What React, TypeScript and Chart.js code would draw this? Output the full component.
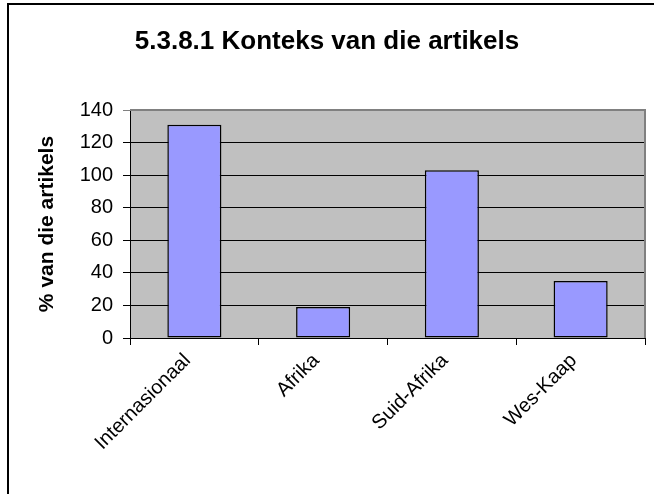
import React, { useEffect, useRef } from "react";
import { Chart, registerables } from "chart.js";

Chart.register(...registerables);

const categories = ["Internasionaal", "Afrika", "Suid-Afrika", "Wes-Kaap"];
const values = [131, 19, 103, 35];
const yTicks = [0, 20, 40, 60, 80, 100, 120, 140];
const titleText = "5.3.8.1 Konteks van die artikels";
const yAxisTitle = "% van die artikels";

const FONT = "'Liberation Sans', Arial, sans-serif";

const framePlugin = {
  id: "framePlugin",
  beforeDraw(chart: any) {
    const { ctx, chartArea } = chart;
    ctx.save();
    ctx.fillStyle = "#ffffff";
    ctx.fillRect(0, 0, chart.width, chart.height);
    ctx.fillStyle = "#C0C0C0";
    ctx.fillRect(chartArea.left, chartArea.top, chartArea.right - chartArea.left, chartArea.bottom - chartArea.top);
    ctx.restore();
  },
  afterDraw(chart: any) {
    const { ctx, chartArea } = chart;
    ctx.save();
    // plot area border (top & right, gray)
    ctx.strokeStyle = "#808080";
    ctx.lineWidth = 2;
    ctx.beginPath();
    ctx.moveTo(chartArea.left, chartArea.top);
    ctx.lineTo(chartArea.right, chartArea.top);
    ctx.lineTo(chartArea.right, chartArea.bottom);
    ctx.stroke();
    // outer frame
    ctx.strokeStyle = "#000000";
    ctx.lineWidth = 2;
    ctx.strokeRect(8, 4, 700, 600);
    // title
    ctx.fillStyle = "#000000";
    ctx.font = `bold 26px ${FONT}`;
    ctx.textAlign = "center";
    ctx.textBaseline = "alphabetic";
    ctx.fillText(titleText, 327, 49);
    ctx.restore();
  },
};

export default function App() {
  const ref = useRef<HTMLCanvasElement | null>(null);
  useEffect(() => {
    if (!ref.current) return;
    const chart = new Chart(ref.current, {
      type: "bar",
      data: {
        labels: categories,
        datasets: [
          {
            data: values,
            backgroundColor: "#9999FF",
            borderColor: "#000000",
            borderWidth: 1.5,
            borderSkipped: false,
            categoryPercentage: 1,
            barPercentage: 0.42,
          },
        ],
      },
      options: {
        animation: false,
        responsive: false,
        maintainAspectRatio: false,
        layout: { padding: { left: 0, right: 9, top: 110, bottom: 0 } },
        plugins: {
          legend: { display: false },
          title: { display: false },
          tooltip: { enabled: false },
        },
        scales: {
          x: {
            afterFit(scale: any) {
              scale.height = 156;
            },
            grid: {
              offset: true,
              drawOnChartArea: false,
              drawTicks: true,
              tickLength: 7,
              color: "#000000",
            },
            border: { color: "#000000", width: 1 },
            ticks: {
              maxRotation: 45,
              minRotation: 45,
              color: "#000000",
              padding: 4,
              labelOffset: -7,
              font: { family: FONT, size: 20 },
            },
          },
          y: {
            min: 0,
            max: 140,
            afterFit(scale: any) {
              scale.width = 130;
            },
            afterBuildTicks(scale: any) {
              scale.ticks = yTicks.map((v) => ({ value: v }));
            },
            grid: {
              color: (c: any) => (c.tick && c.tick.value === 140 ? "#808080" : "#000000"),
              lineWidth: 1,
              tickLength: 7,
              drawTicks: true,
            },
            border: { color: "#000000", width: 1 },
            ticks: {
              color: "#000000",
              padding: 10,
              font: { family: FONT, size: 20 },
            },
            title: {
              display: true,
              text: yAxisTitle,
              color: "#000000",
              font: { family: FONT, size: 21, weight: "bold" },
              padding: { top: 35, bottom: 0 },
            },
          },
        },
      },
      plugins: [framePlugin],
    });
    return () => chart.destroy();
  }, []);
  return (
    <canvas
      ref={ref}
      width={654}
      height={494}
      style={{ position: "fixed", left: 0, top: 0, width: 654, height: 494 }}
    />
  );
}
